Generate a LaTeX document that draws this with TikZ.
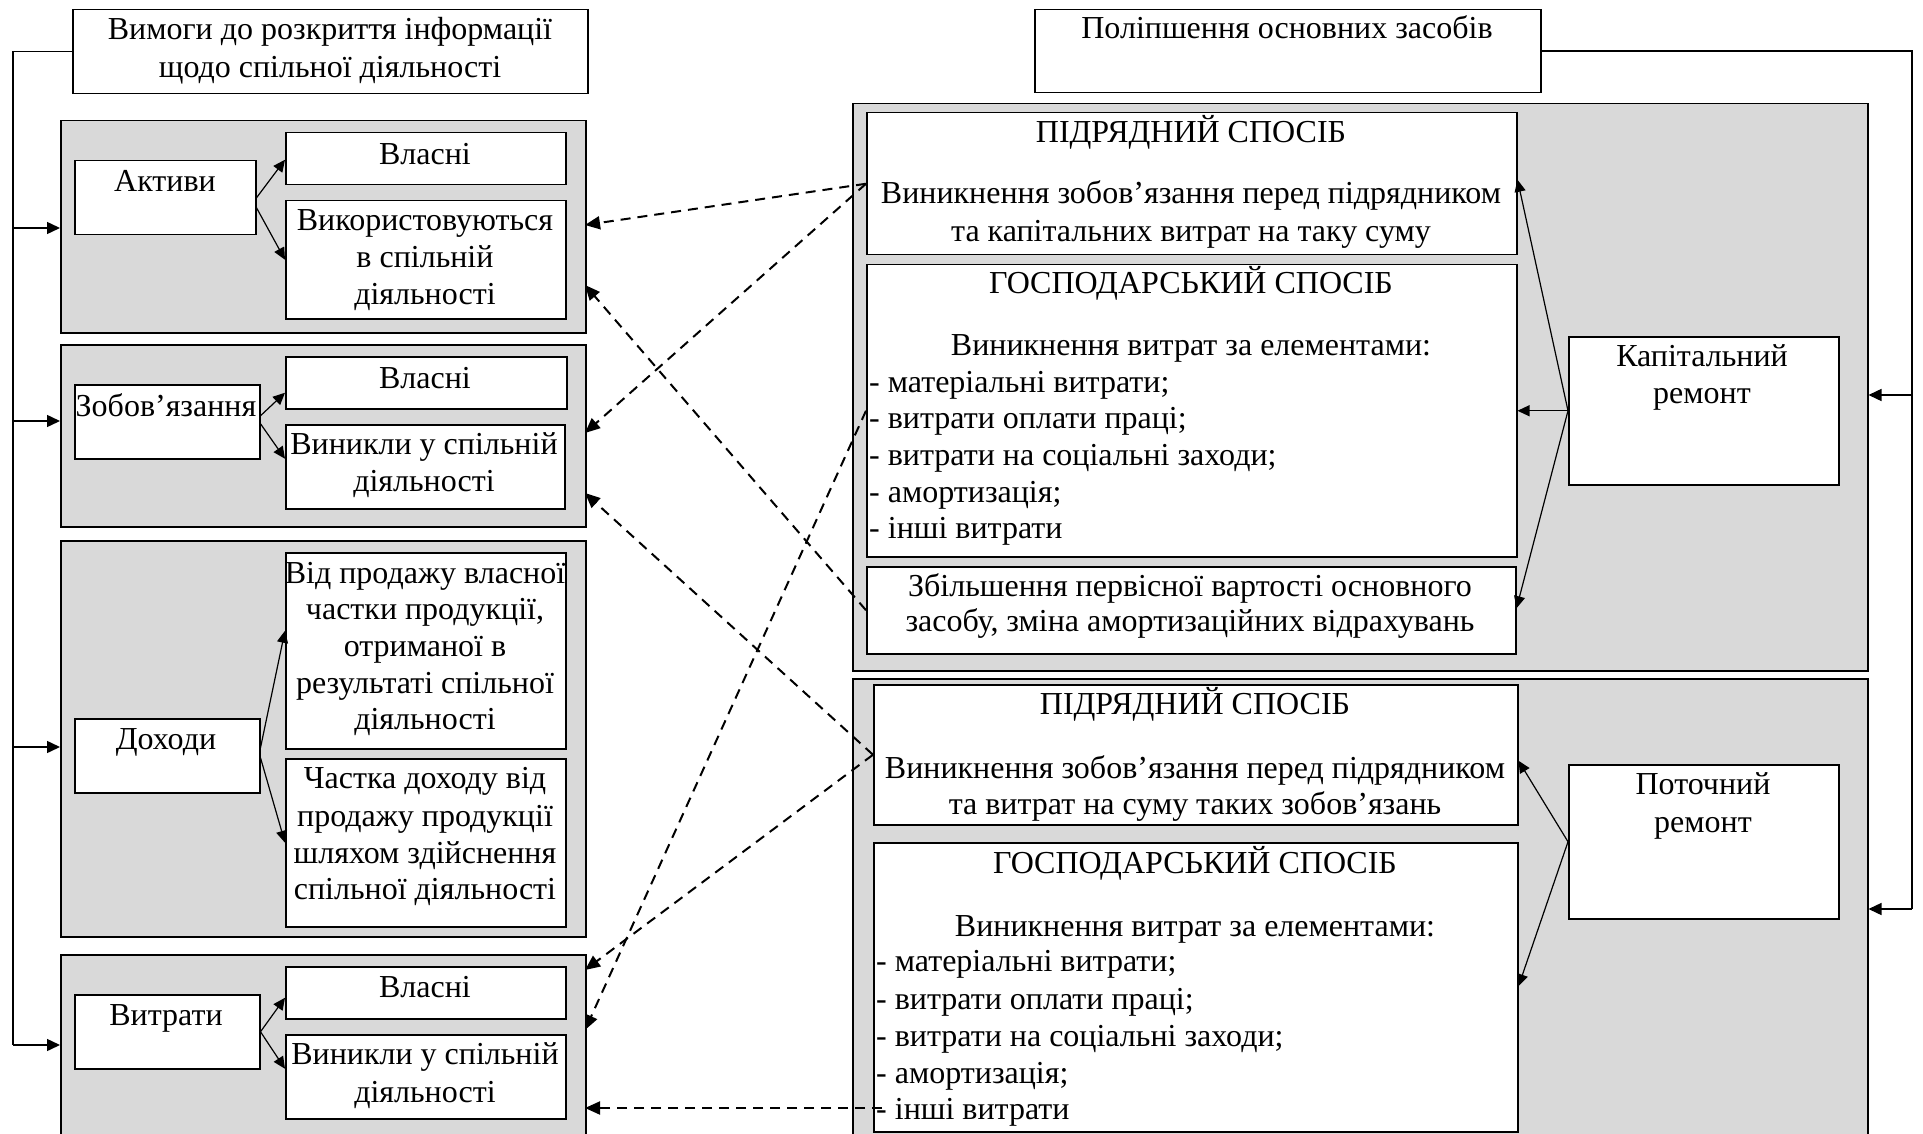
\documentclass[tikz,border=0pt]{standalone}
\usepackage{fontspec}
\setmainfont{Liberation Serif}
\usetikzlibrary{arrows.meta}
\definecolor{grayfill}{RGB}{217,217,217}
\begin{document}
\begin{tikzpicture}[x=1pt,y=-1pt,
  box/.style={draw, fill=white, line width=1.5pt, inner sep=0pt, anchor=north west},
  grp/.style={draw, fill=grayfill, line width=1.5pt, inner sep=0pt, anchor=north west},
  txt/.style={anchor=base, inner sep=0pt, font=\fontsize{32}{37}\selectfont},
  txl/.style={anchor=base west, inner sep=0pt, font=\fontsize{32}{37}\selectfont},
  ln/.style={line width=1.5pt},
  arr/.style={line width=1.5pt, -{Triangle[length=13pt,width=12pt]}},
  sarr/.style={line width=1.2pt, -{Triangle[length=12pt,width=11pt]}},
  darr/.style={line width=2pt, dash pattern=on 10pt off 7pt, -{Triangle[length=15pt,width=13pt]}}]
\useasboundingbox (0,0) rectangle (1923,1134);
\clip (0,0) rectangle (1923,1134);
\fill[white] (0,0) rectangle (1923,1134);

% ---------- left side ----------
\node[box, minimum width=515pt, minimum height=84pt] (req) at (72,9) {};
\node[txt] (req1) at (330,40) {Вимоги до розкриття інформації};
\node[txt] (req2) at (330,78) {щодо спільної діяльності};

\node[grp, minimum width=525pt, minimum height=212pt] (g1) at (60,120) {};
\node[grp, minimum width=525pt, minimum height=182pt] (g2) at (60,344) {};
\node[grp, minimum width=525pt, minimum height=396pt] (g3) at (60,540) {};
\node[grp, minimum width=525pt, minimum height=220pt] (g4) at (60,954) {};

\node[box, minimum width=181pt, minimum height=74pt] (akt) at (74,160) {};
\node[txt] (aktt) at (165,192) {Активи};
\node[box, minimum width=280pt, minimum height=52pt] (vl1) at (285,132) {};
\node[txt] (vl1t) at (425,165) {Власні};
\node[box, minimum width=280pt, minimum height=118pt] (vyk) at (285,200) {};
\node[txt] (vyk1) at (425,231) {Використовуються};
\node[txt] (vyk2) at (425,268) {в спільній};
\node[txt] (vyk3) at (425,305) {діяльності};

\node[box, minimum width=185pt, minimum height=74pt] (zob) at (74,384) {};
\node[txt] (zobt) at (166,416) {Зобов’язання};
\node[box, minimum width=281pt, minimum height=52pt] (vl2) at (285,356) {};
\node[txt] (vl2t) at (425,388) {Власні};
\node[box, minimum width=279pt, minimum height=84pt] (vn2) at (285,424) {};
\node[txt] (vn2a) at (424,454) {Виникли у спільній};
\node[txt] (vn2b) at (424,491) {діяльності};

\node[box, minimum width=185pt, minimum height=74pt] (dox) at (74,718) {};
\node[txt] (doxt) at (166,749) {Доходи};
\node[box, minimum width=280pt, minimum height=196pt] (vid) at (285,552) {};
\node[txt] (vid1) at (425,583) {Від продажу власної};
\node[txt] (vid2) at (425,619) {частки продукції,};
\node[txt] (vid3) at (425,656) {отриманої в};
\node[txt] (vid4) at (425,693) {результаті спільної};
\node[txt] (vid5) at (425,729) {діяльності};
\node[box, minimum width=280pt, minimum height=168pt] (cht) at (285,758) {};
\node[txt] (cht1) at (425,788) {Частка доходу від};
\node[txt] (cht2) at (425,826) {продажу продукції};
\node[txt] (cht3) at (425,863) {шляхом здійснення};
\node[txt] (cht4) at (425,899) {спільної діяльності};

\node[box, minimum width=185pt, minimum height=74pt] (vyt) at (74,994) {};
\node[txt] (vytt) at (166,1025) {Витрати};
\node[box, minimum width=280pt, minimum height=52pt] (vl3) at (285,966) {};
\node[txt] (vl3t) at (425,997) {Власні};
\node[box, minimum width=280pt, minimum height=84pt] (vn3) at (285,1034) {};
\node[txt] (vn3a) at (425,1064) {Виникли у спільній};
\node[txt] (vn3b) at (425,1102) {діяльності};

% rail
\coordinate (rA) at (13,228);
\coordinate (rB) at (13,421);
\coordinate (rC) at (13,747);
\coordinate (rD) at (13,1045);
\draw[ln] (req.west) -| (rD);
\draw[arr] (rA) -- (g1.west |- rA);
\draw[arr] (rB) -- (g2.west |- rB);
\draw[arr] (rC) -- (g3.west |- rC);
\draw[arr] (rD) -- (g4.west |- rD);

\draw[sarr] (akt.east) -- ([yshift=-1pt]vl1.west);
\draw[sarr] ([yshift=-10pt]akt.east) -- (vyk.west);
\draw[sarr] ([yshift=6pt]zob.east) -- ([yshift=-10pt]vl2.west);
\draw[sarr] ([yshift=-2pt]zob.east) -- ([yshift=8pt]vn2.west);
\draw[sarr] ([yshift=8pt]dox.east) -- ([yshift=20pt]vid.west);
\draw[sarr] ([yshift=-2pt]dox.east) -- (cht.west);
\draw[sarr] (vyt.east) -- ([yshift=-5pt]vl3.west);
\draw[sarr] (vyt.east) -- ([yshift=8pt]vn3.west);

% ---------- right side ----------
\node[box, minimum width=506pt, minimum height=83pt] (pol) at (1034,9) {};
\node[txt] (polt) at (1287,39) {Поліпшення основних засобів};

\node[grp, minimum width=1015pt, minimum height=567pt] (G1) at (852,103) {};
\node[grp, minimum width=1015pt, minimum height=480pt] (G2) at (852,678) {};

\node[box, minimum width=650pt, minimum height=142pt] (pid1) at (866,112) {};
\node[txt] (pid1a) at (1191,143) {ПІДРЯДНИЙ СПОСІБ};
\node[txt] (pid1b) at (1191,204) {Виникнення зобов’язання перед підрядником};
\node[txt] (pid1c) at (1191,242) {та капітальних витрат на таку суму};

\node[box, minimum width=650pt, minimum height=292pt] (gos1) at (866,264) {};
\node[txt] (gos1a) at (1191,294) {ГОСПОДАРСЬКИЙ СПОСІБ};
\node[txt] (gos1b) at (1191,355) {Виникнення витрат за елементами:};
\node[txl] (gos1c) at (869,392) {- матеріальні витрати;};
\node[txl] (gos1d) at (869,428) {- витрати оплати праці;};
\node[txl] (gos1e) at (869,465) {- витрати на соціальні заходи;};
\node[txl] (gos1f) at (869,502) {- амортизація;};
\node[txl] (gos1g) at (869,538) {- інші витрати};

\node[box, minimum width=649pt, minimum height=87pt] (zb) at (866,566) {};
\node[txt] (zba) at (1190,596) {Збільшення первісної вартості основного};
\node[txt] (zbb) at (1190,631) {засобу, зміна амортизаційних відрахувань};

\node[box, minimum width=270pt, minimum height=148pt] (kap) at (1568,336) {};
\node[txt] (kapa) at (1702,366) {Капітальний};
\node[txt] (kapb) at (1702,403) {ремонт};

\node[box, minimum width=644pt, minimum height=140pt] (pid2) at (873,684) {};
\node[txt] (pid2a) at (1195,714) {ПІДРЯДНИЙ СПОСІБ};
\node[txt] (pid2b) at (1195,778) {Виникнення зобов’язання перед підрядником};
\node[txt] (pid2c) at (1195,814) {та витрат на суму таких зобов’язань};

\node[box, minimum width=644pt, minimum height=289pt] (gos2) at (873,842) {};
\node[txt] (gos2a) at (1195,873) {ГОСПОДАРСЬКИЙ СПОСІБ};
\node[txt] (gos2b) at (1195,936) {Виникнення витрат за елементами:};
\node[txl] (gos2c) at (876,971) {- матеріальні витрати;};
\node[txl] (gos2d) at (876,1009) {- витрати оплати праці;};
\node[txl] (gos2e) at (876,1046) {- витрати на соціальні заходи;};
\node[txl] (gos2f) at (876,1083) {- амортизація;};
\node[txl] (gos2g) at (876,1119) {- інші витрати};

\node[box, minimum width=270pt, minimum height=154pt] (pot) at (1568,764) {};
\node[txt] (pota) at (1703,794) {Поточний};
\node[txt] (potb) at (1703,832) {ремонт};

% right rail
\coordinate (qA) at (1912,395);
\coordinate (qB) at (1912,909);
\draw[ln] (pol.east) -| (qB);
\draw[arr] (qA) -- (G1.east |- qA);
\draw[arr] (qB) -- (G2.east |- qB);

\draw[sarr] (kap.west) -- ([yshift=4pt]pid1.east);
\draw[sarr] (kap.west) -- (gos1.east);
\draw[sarr] (kap.west) -- ([yshift=2pt]zb.east);
\draw[sarr] (pot.west) -- ([yshift=-6pt]pid2.east);
\draw[sarr] (pot.west) -- ([yshift=1pt]gos2.east);

% dashed connectors
\coordinate (dA) at (585,225);
\coordinate (dB) at (585,285);
\coordinate (dC) at (585,433);
\coordinate (dD) at (585,493);
\coordinate (dE) at (585,970);
\coordinate (dF) at (585,1030);
\coordinate (dG) at (585,1108);
\coordinate (sG) at (882,1108);
\draw[darr] (pid1.west) -- (dA);
\draw[darr] (zb.west) -- (dB);
\draw[darr] (pid1.west) -- (dC);
\draw[darr] (pid2.west) -- (dD);
\draw[darr] (pid2.west) -- (dE);
\draw[darr] (gos1.west) -- (dF);
\draw[darr] (sG) -- (dG);
\end{tikzpicture}
\end{document}
